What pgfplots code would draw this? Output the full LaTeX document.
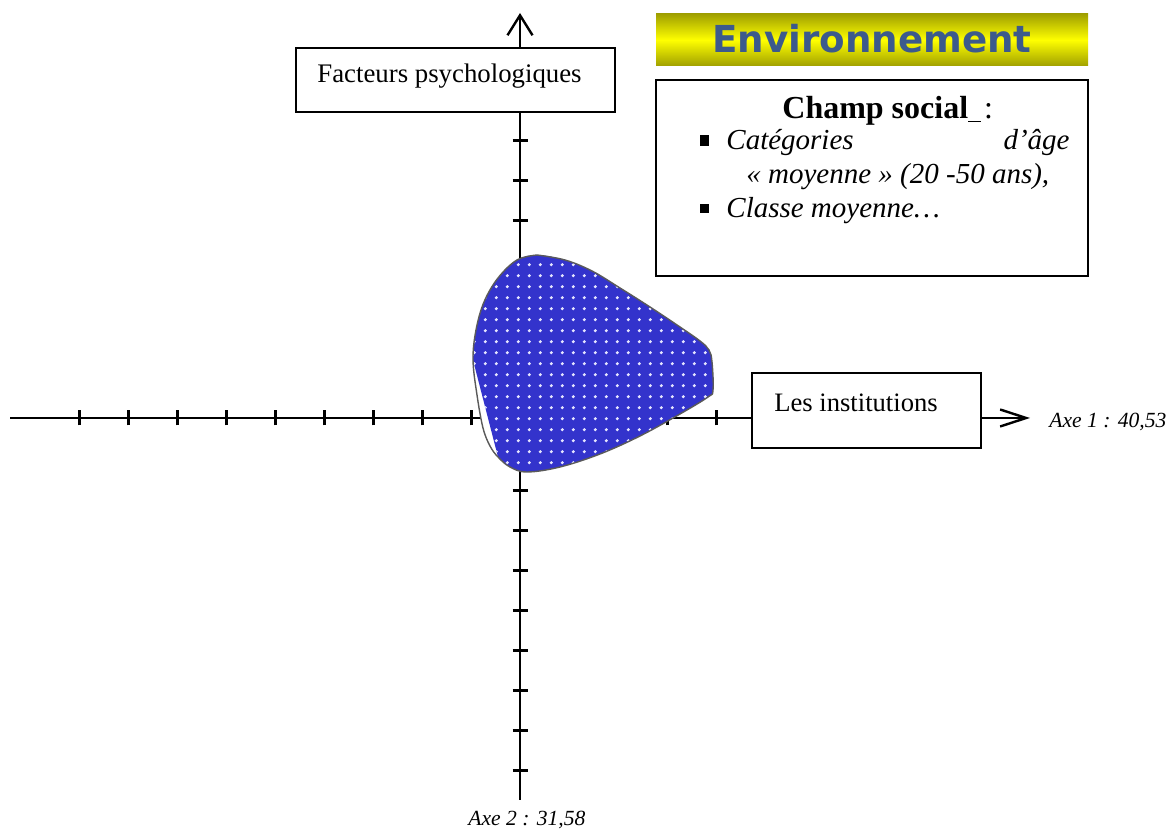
\documentclass[border=0pt]{standalone}
\usepackage{fontspec}
\setmainfont{Liberation Serif}
\newfontfamily\verd{DejaVu Sans}
\usepackage{pgfplots}
\pgfplotsset{compat=1.18}
\usetikzlibrary{arrows.meta,patterns.meta}

\definecolor{blob}{RGB}{51,51,204}
\definecolor{olivebar}{RGB}{160,160,0}
\definecolor{titleblue}{RGB}{60,90,140}
\definecolor{rim}{RGB}{90,90,90}

% coordinates: X = px - 520, Y = 418 - py (reference pixels)
\begin{document}
\begin{tikzpicture}
\begin{axis}[
    x=0.5pt, y=0.5pt,
    xmin=-510, xmax=510, ymin=-382, ymax=405,
    enlargelimits=false,
    axis lines=middle,
    clip=false,
    x axis line style={line width=1.4pt, -{Straight Barb[length=13pt,width=8.5pt,line width=1.2pt]}},
    y axis line style={line width=1.4pt, -{Straight Barb[length=10pt,width=12.5pt,line width=1.2pt]}},
    xtick={-441,-392,-343,-294,-245,-196,-147,-98,-49,49,98,147,196,245,294,343,392,441},
    ytick={-353,-313,-273,-233,-193,-153,-113,-73,-33,37,77,117,197,237,277,317,357},
    xticklabels={}, yticklabels={},
    every tick/.style={line width=1.5pt, black},
    major tick length=7.5pt,
]
% outline of the zone (white gap on the left)
\addplot[fill=white, draw=none, smooth, tension=0.6] coordinates {
    (17,163) (45,158) (72,147) (100,130) (130,111) (160,91) (180,77) (189,68)
    (192,56) (193,28) (188,21) (160,4) (120,-18) (80,-36) (40,-49) (7,-54)
    (-10,-49) (-22,-39) (-30,-28) (-37,-10) (-43,23) (-47,58) (-44,88)
    (-36,116) (-22,140) (-3,158) (17,163)
};
% blue dotted zone
\addplot[fill=blob, draw=none, smooth, tension=0.6,
    postaction={pattern={Dots[distance=5.4pt,radius=0.85pt]}, pattern color=white!90!blue}]
    coordinates {
    (-47,58) (-44,88) (-36,116) (-22,140) (-3,158) (17,163) (45,158) (72,147)
    (100,130) (130,111) (160,91) (180,77) (189,68) (192,56) (193,28) (188,21)
    (160,4) (120,-18) (80,-36) (40,-49) (7,-54) (-10,-49) (-22,-39)
} -- cycle;
\addplot[draw=rim, line width=0.7pt, smooth, tension=0.6] coordinates {
    (17,163) (45,158) (72,147) (100,130) (130,111) (160,91) (180,77) (189,68)
    (192,56) (193,28) (188,21) (160,4) (120,-18) (80,-36) (40,-49) (7,-54)
    (-10,-49) (-22,-39) (-30,-28) (-37,-10) (-43,23) (-47,58) (-44,88)
    (-36,116) (-22,140) (-3,158) (17,163)
};

% boxes on the axes
\draw[fill=white, line width=0.9pt] (axis cs:-224,370) rectangle (axis cs:95,306);
\node[anchor=base west, inner sep=0pt, font=\fontsize{13.4}{16}\selectfont]
    at (axis cs:-203,335) {Facteurs psychologiques};
\draw[fill=white, line width=0.9pt] (axis cs:232,45) rectangle (axis cs:461,-30);
\node[anchor=base west, inner sep=0pt, font=\fontsize{13.3}{16}\selectfont]
    at (axis cs:254,6) {Les institutions};

% axis names
\node[anchor=base west, inner sep=0pt, font=\fontsize{10.8}{13}\selectfont\itshape]
    at (axis cs:529,-10) {Axe 1 : 40,53};
\node[anchor=base west, inner sep=0pt, font=\fontsize{10.8}{13}\selectfont\itshape]
    at (axis cs:-52,-408) {Axe 2 : 31,58};

% title bar
\shade[top color=olivebar, bottom color=olivebar, middle color=yellow]
    (axis cs:136,404) rectangle (axis cs:568,352);
\node[anchor=base, inner sep=0pt, text=titleblue, font=\verd\bfseries\fontsize{18.6}{22}\selectfont]
    at (axis cs:352,365) {Environnement};

% champ social box
\draw[line width=1pt] (axis cs:136,338) rectangle (axis cs:568,142);
\node[anchor=base west, inner sep=0pt, font=\fontsize{16}{19}\selectfont]
    at (axis cs:262,299) {\textbf{Champ social}\underline{\hspace{0.4em}}\hspace{0.1em}:};
\fill (axis cs:180,283) rectangle (axis cs:189,272);
\fill (axis cs:180,214) rectangle (axis cs:189,205);
\node[anchor=base west, inner sep=0pt, font=\fontsize{14.5}{17}\selectfont\itshape]
    at (axis cs:206,268) {Catégories};
\node[anchor=base east, inner sep=0pt, font=\fontsize{14.5}{17}\selectfont\itshape]
    at (axis cs:550,268) {d’âge};
\node[anchor=base west, inner sep=0pt, font=\fontsize{14.5}{17}\selectfont\itshape]
    at (axis cs:226,234) {« moyenne » (20 -50 ans),};
\node[anchor=base west, inner sep=0pt, font=\fontsize{14.5}{17}\selectfont\itshape]
    at (axis cs:206,200) {Classe moyenne…};

% page frame
\path (axis cs:-520,418) rectangle (axis cs:652,-411);
\end{axis}
\end{tikzpicture}
\end{document}
